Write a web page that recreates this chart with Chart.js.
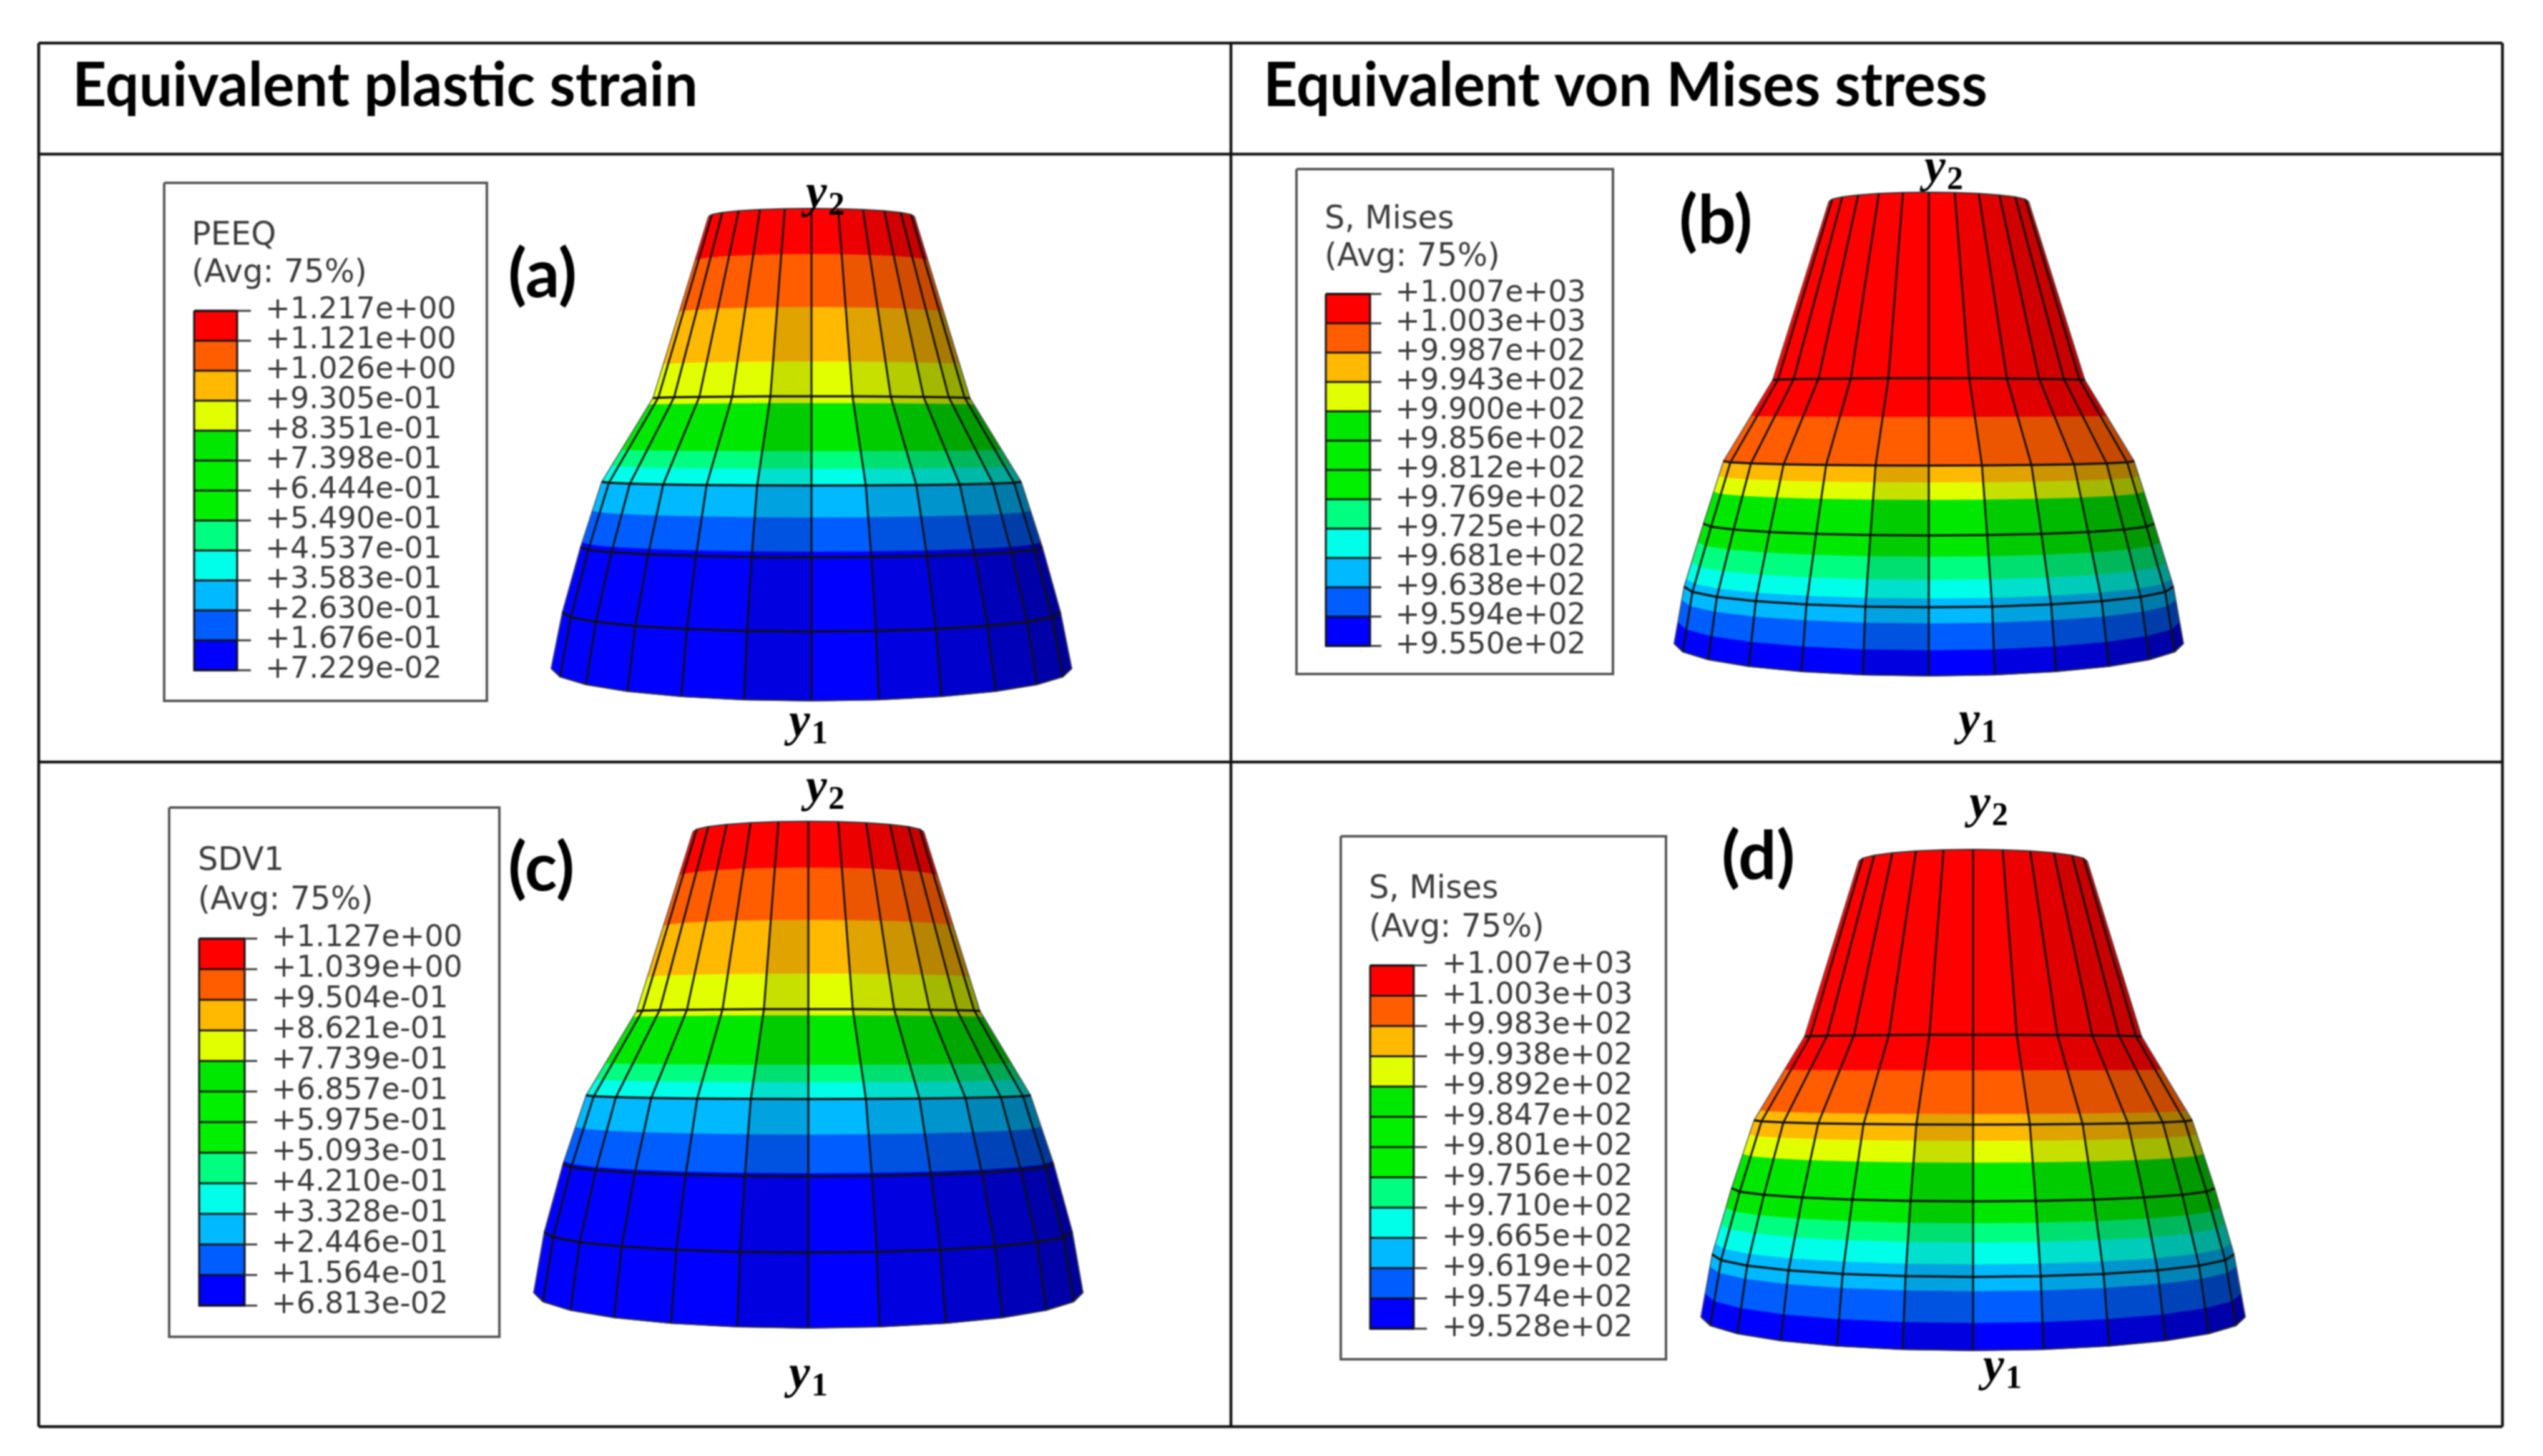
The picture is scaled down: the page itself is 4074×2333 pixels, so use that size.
<!DOCTYPE html>
<html>
<head>
<meta charset="utf-8">
<title>Equivalent plastic strain and von Mises stress</title>
<style>
  html, body { margin: 0; background: #fff; }
  canvas { display: block; filter: blur(0.9px); }
</style>
<script src="https://cdn.jsdelivr.net/npm/chart.js@4/dist/chart.umd.min.js"></script>
</head>
<body>
<canvas id="chart" width="4074" height="2333"></canvas>
<script>
// legend values
const ticksA = ["+1.217e+00", "+1.121e+00", "+1.026e+00", "+9.305e-01", "+8.351e-01", "+7.398e-01", "+6.444e-01", "+5.490e-01", "+4.537e-01", "+3.583e-01", "+2.630e-01", "+1.676e-01", "+7.229e-02"];
const ticksB = ["+1.007e+03", "+1.003e+03", "+9.987e+02", "+9.943e+02", "+9.900e+02", "+9.856e+02", "+9.812e+02", "+9.769e+02", "+9.725e+02", "+9.681e+02", "+9.638e+02", "+9.594e+02", "+9.550e+02"];
const ticksC = ["+1.127e+00", "+1.039e+00", "+9.504e-01", "+8.621e-01", "+7.739e-01", "+6.857e-01", "+5.975e-01", "+5.093e-01", "+4.210e-01", "+3.328e-01", "+2.446e-01", "+1.564e-01", "+6.813e-02"];
const ticksD = ["+1.007e+03", "+1.003e+03", "+9.983e+02", "+9.938e+02", "+9.892e+02", "+9.847e+02", "+9.801e+02", "+9.756e+02", "+9.710e+02", "+9.665e+02", "+9.619e+02", "+9.574e+02", "+9.528e+02"];

// mesh rings, top to bottom: y at the front, y at the silhouette, half width
const ringFrontA = [334, 635, 778, 893, 1012, 1123];
const ringEdgeA = [347, 638, 772, 877, 981, 1071];
const ringHalfA = [165, 254, 336, 370, 399, 417];
const ringFrontB = [308, 606, 746, 858, 973, 1083];
const ringEdgeB = [323, 609, 739, 839, 940, 1031];
const ringHalfB = [160, 250, 329, 361, 392, 408];
const ringFrontC = [1316, 1617, 1761, 1885, 2007, 2128];
const ringEdgeC = [1333, 1620, 1755, 1865, 1974, 2071];
const ringHalfC = [185, 275, 356, 393, 423, 440];
const ringFrontD = [1361, 1658, 1802, 1925, 2046, 2164];
const ringEdgeD = [1380, 1661, 1795, 1904, 2010, 2110];
const ringHalfD = [183, 270, 351, 387, 418, 436];

// where one contour colour gives way to the next, read at the front meridian
const contourA = [407, 492, 579, 646, 723, 751, 778, 829, 884];
const contourB = [668, 746, 773, 801, 892, 929, 959, 999, 1042];
const contourC = [1390, 1474, 1560, 1627, 1706, 1734, 1761, 1818, 1880];
const contourD = [1715, 1785, 1828, 1863, 1960, 1991, 2026, 2069, 2120];

// meridian positions across the width, how far each bulges toward the viewer
const meridianX = [-1, -0.966, -0.866, -0.707, -0.5, -0.259, 0, 0.259, 0.5, 0.707, 0.866, 0.966, 1];
const meridianBulge = [0, 0.259, 0.5, 0.707, 0.866, 0.966, 1, 0.966, 0.866, 0.707, 0.5, 0.259, 0];

// brightness of each facet, lit from the left; reds and oranges fall off less
const facetShade = [1, 1, 1, 1, 1, 0.88, 1, 0.88, 0.8, 0.72, 0.66, 0.6];
const facetShadeWarm = [1, 1, 1, 1, 1, 1, 1, 0.93, 0.88, 0.82, 0.78, 0.74];

const legendColors = ["#ff0000", "#ff5d00", "#ffb900", "#e2ff00", "#00e800", "#00f000", "#00f000", "#00ff80", "#00ffe8", "#00b9ff", "#005dff", "#0000ff"];
const surfaceColors = ["#ff0000", "#ff5d00", "#ffb900", "#e2ff00", "#00e800", "#00ff80", "#00ffe8", "#00b9ff", "#005dff", "#0000ff"];

const panels = [
  {
    ticks: ticksA, front: ringFrontA, edge: ringEdgeA, half: ringHalfA, contour: contourA,
    cx: 1300, box: [263, 293, 780, 1123], bar: [311, 498, 380, 1074], tickEnd: 402, labelX: 425,
    title: ["PEEQ", "(Avg: 75%)"], titleX: 307, titleY: [379, 439],
    letter: "(a)", letterX: 814, letterY: 441,
    y2: [1291, 332], y1: [1264, 1179],
  },
  {
    ticks: ticksB, front: ringFrontB, edge: ringEdgeB, half: ringHalfB, contour: contourB,
    cx: 3090, box: [2077, 271, 2584, 1080], bar: [2124, 471, 2195, 1035], tickEnd: 2213, labelX: 2235,
    title: ["S, Mises", "(Avg: 75%)"], titleX: 2122, titleY: [353, 413],
    letter: "(b)", letterX: 2690, letterY: 355,
    y2: [3083, 291], y1: [3138, 1177],
  },
  {
    ticks: ticksC, front: ringFrontC, edge: ringEdgeC, half: ringHalfC, contour: contourC,
    cx: 1295, box: [271, 1294, 800, 2142], bar: [319, 1504, 392, 2092], tickEnd: 412, labelX: 435,
    title: ["SDV1", "(Avg: 75%)"], titleX: 317, titleY: [1381, 1444],
    letter: "(c)", letterX: 814, letterY: 1392,
    y2: [1291, 1284], y1: [1264, 2224],
  },
  {
    ticks: ticksD, front: ringFrontD, edge: ringEdgeD, half: ringHalfD, contour: contourD,
    cx: 3161, box: [2148, 1340, 2669, 2178], bar: [2195, 1547, 2265, 2129], tickEnd: 2286, labelX: 2310,
    title: ["S, Mises", "(Avg: 75%)"], titleX: 2193, titleY: [1426, 1488],
    letter: "(d)", letterX: 2758, letterY: 1374,
    y2: [3155, 1310], y1: [3177, 2212],
  },
];

const headings = [
  { text: "Equivalent plastic strain", x: 116, y: 138, width: 1002 },
  { text: "Equivalent von Mises stress", x: 2024, y: 138, width: 1160 },
];

function shade(hex, f) {
  const n = parseInt(hex.slice(1), 16);
  const r = Math.round(((n >> 16) & 255) * f);
  const g = Math.round(((n >> 8) & 255) * f);
  const b = Math.round((n & 255) * f);
  return `rgb(${r},${g},${b})`;
}

const datasets = [];

function addShape(points, color) {
  datasets.push({
    data: points,
    showLine: true,
    fill: "shape",
    backgroundColor: color,
    borderColor: color,
    borderWidth: 1.5,
    pointRadius: 0,
  });
}

function addLine(points, color, width) {
  datasets.push({
    data: points,
    showLine: true,
    fill: false,
    borderColor: color,
    borderWidth: width,
    pointRadius: 0,
  });
}

function rect(b) {
  return [
    { x: b[0], y: b[1] }, { x: b[2], y: b[1] }, { x: b[2], y: b[3] },
    { x: b[0], y: b[3] }, { x: b[0], y: b[1] },
  ];
}

// ring coordinate of a y read at the front meridian
function ringAt(front, y) {
  for (let i = 0; i < front.length - 1; i++) {
    if (y <= front[i + 1]) return i + (y - front[i]) / (front[i + 1] - front[i]);
  }
  return front.length - 1;
}

function lerpRing(arr, t) {
  const i = Math.min(Math.floor(t), arr.length - 2);
  return arr[i] + (arr[i + 1] - arr[i]) * (t - i);
}

function surfacePoint(p, t, m) {
  const edge = lerpRing(p.edge, t);
  const front = lerpRing(p.front, t);
  return {
    x: p.cx + meridianX[m] * lerpRing(p.half, t),
    y: edge + (front - edge) * meridianBulge[m],
  };
}

function addSurface(p) {
  const lastRing = p.front.length - 1;
  const stops = [0, ...p.contour.map((y) => ringAt(p.front, y)), lastRing];

  for (let b = 0; b < surfaceColors.length; b++) {
    const t0 = stops[b];
    const t1 = stops[b + 1];
    const inner = [];
    for (let r = Math.floor(t0) + 1; r < t1; r++) inner.push(r);
    const run = [t0, ...inner, t1];
    const shades = b < 2 ? facetShadeWarm : facetShade;
    for (let c = 0; c < shades.length; c++) {
      const down = run.map((t) => surfacePoint(p, t, c));
      const up = run.slice().reverse().map((t) => surfacePoint(p, t, c + 1));
      addShape([...down, ...up], shade(surfaceColors[b], shades[c]));
    }
  }

  // meridians of the mesh
  for (let m = 0; m < meridianX.length; m++) {
    const pts = p.front.map((_, r) => surfacePoint(p, r, m));
    const outer = m === 0 || m === meridianX.length - 1;
    addLine(pts, outer ? "#555" : "#111", outer ? 1.5 : 3);
  }
  // rings of the mesh
  for (let r = 0; r <= lastRing; r++) {
    const pts = meridianX.map((_, m) => surfacePoint(p, r, m));
    addLine(pts, r === 0 || r === lastRing ? "#333" : "#111", r === 0 || r === lastRing ? 2 : 3.5);
  }
}

function addLegend(p) {
  addLine(rect(p.box), "#555", 4);
  const [x0, y0, x1, y1] = p.bar;
  const step = (y1 - y0) / legendColors.length;
  legendColors.forEach((color, i) => {
    addShape(rect([x0, y0 + i * step, x1, y0 + (i + 1) * step]), color);
  });
  addLine(rect(p.bar), "#111", 3);
  p.ticks.forEach((_, i) => {
    const y = y0 + i * step;
    addLine([{ x: x0, y }, { x: x1, y }], "#111", 3);
    addLine([{ x: x1, y }, { x: p.tickEnd, y }], "#333", 3);
  });
}

panels.forEach((p) => {
  addSurface(p);
  addLegend(p);
});

// table frame
[
  [[62, 69], [4009, 69]],
  [[62, 247], [4009, 247]],
  [[62, 1221], [4009, 1221]],
  [[62, 2286], [4009, 2286]],
  [[62, 69], [62, 2286]],
  [[1972, 69], [1972, 2286]],
  [[4009, 69], [4009, 2286]],
].forEach((seg) => {
  addLine(seg.map(([x, y]) => ({ x, y })), "#111", 4.5);
});

const textPlugin = {
  id: "figureText",
  afterDraw(chart) {
    const { ctx } = chart;
    const px = (v) => chart.scales.x.getPixelForValue(v);
    const py = (v) => chart.scales.y.getPixelForValue(v);
    ctx.save();
    ctx.textAlign = "left";

    ctx.fillStyle = "#000";
    ctx.textBaseline = "middle";
    ctx.font = "bold 98px Lato";
    headings.forEach((h) => ctx.fillText(h.text, px(h.x), py(h.y), h.width));

    panels.forEach((p) => {
      ctx.fillStyle = "#3a3a3a";
      ctx.textBaseline = "middle";
      ctx.font = "51px 'DejaVu Sans'";
      p.title.forEach((line, i) => ctx.fillText(line, px(p.titleX), py(p.titleY[i])));
      const step = (p.bar[3] - p.bar[1]) / (p.ticks.length - 1);
      ctx.font = "47.6px 'DejaVu Sans'";
      p.ticks.forEach((label, i) => {
        ctx.fillText(label, px(p.labelX), py(p.bar[1] + i * step));
      });

      ctx.fillStyle = "#000";
      ctx.font = "bold 108px Lato";
      ctx.fillText(p.letter, px(p.letterX), py(p.letterY));

      ctx.textBaseline = "alphabetic";
      [["2", p.y2], ["1", p.y1]].forEach(([sub, pos]) => {
        ctx.font = "italic bold 76px 'Liberation Serif'";
        ctx.fillText("y", px(pos[0]), py(pos[1]));
        ctx.font = "bold 52px 'Liberation Serif'";
        ctx.fillText(sub, px(pos[0] + 36), py(pos[1] + 12));
      });
    });
    ctx.restore();
  },
};

new Chart(document.getElementById("chart"), {
  type: "scatter",
  data: { datasets: datasets.reverse() },
  plugins: [textPlugin],
  options: {
    responsive: false,
    devicePixelRatio: 1,
    animation: false,
    layout: { padding: 0 },
    plugins: { legend: { display: false }, tooltip: { enabled: false } },
    scales: {
      x: { type: "linear", min: 0, max: 4074, display: false },
      y: { type: "linear", min: 0, max: 2333, reverse: true, display: false },
    },
  },
});
</script>
</body>
</html>
